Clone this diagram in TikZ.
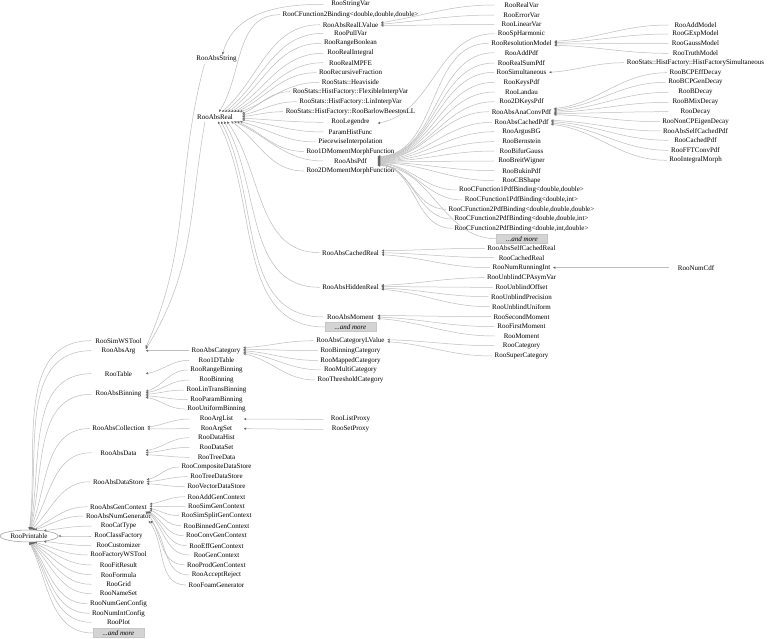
\documentclass[tikz,border=0pt]{standalone}
\usepackage{fontspec}
\setmainfont{Liberation Serif}
\usetikzlibrary{arrows.meta,calc,shapes.geometric}
\tikzset{
  cls/.style={font=\fontsize{7}{8}\selectfont, inner xsep=2.5pt, inner ysep=0pt, minimum width=54pt, minimum height=9pt},
  more/.style={font=\fontsize{7}{8}\selectfont\itshape, fill=black!17, draw=black!22, line width=0.3pt, minimum width=51pt, minimum height=9pt, inner sep=0pt},
  root/.style={ellipse, draw=black!40, line width=0.5pt, fill=white, font=\fontsize{7}{8}\selectfont, minimum width=58pt, minimum height=12pt, inner sep=0pt},
  inhline/.style={draw=black!26, line width=0.5pt, -{Triangle[open,length=2.4pt,width=2.2pt,color=black!60]}},
}
\newcommand\inh[3][0.8]{%
  \draw[inhline] let \p1=(#2.west), \p2=(#3), \n1={#1*atan2(\y1-\y2,\x1-\x2)} in (\p1) to[out=180,in=\n1] (\p2);}
\begin{document}
\begin{tikzpicture}[x=1pt,y=-1pt]
\useasboundingbox (0,0) rectangle (768,639);
\fill[white] (0,0) rectangle (768,639);
% root
\node[root] (P) at (29,536) {RooPrintable};
% column A
\node[cls] (SimWS) at (118.5,340.7) {RooSimWSTool};
\node[cls] (AbsArg) at (118.5,350.7) {RooAbsArg};
\node[cls] (Table) at (118.5,373.7) {RooTable};
\node[cls] (AbsBin) at (118.5,394.3) {RooAbsBinning};
\node[cls] (AbsColl) at (118.5,428.5) {RooAbsCollection};
\node[cls] (AbsData) at (118.5,452.7) {RooAbsData};
\node[cls] (AbsDS) at (118.5,481.7) {RooAbsDataStore};
\node[cls] (AbsGen) at (118.5,506.7) {RooAbsGenContext};
\node[cls] (AbsNum) at (118.5,516) {RooAbsNumGenerator};
\node[cls] (CatType) at (118.5,526) {RooCatType};
\node[cls] (ClassF) at (118.5,536) {RooClassFactory};
\node[cls] (Cust) at (118.5,545.7) {RooCustomizer};
\node[cls] (FacWS) at (118.5,555) {RooFactoryWSTool};
\node[cls] (FitRes) at (118.5,565) {RooFitResult};
\node[cls] (Formula) at (118.5,574.7) {RooFormula};
\node[cls] (Grid) at (118.5,584.3) {RooGrid};
\node[cls] (NameSet) at (118.5,593.7) {RooNameSet};
\node[cls] (NumGen) at (118.5,603.7) {RooNumGenConfig};
\node[cls] (NumInt) at (118.5,613.3) {RooNumIntConfig};
\node[cls] (Plot) at (118.5,622.3) {RooPlot};
\node[more] (MoreA) at (118.5,633) {...and more};
% column B
\node[cls] (AbsString) at (216.5,59.3) {RooAbsString};
\node[cls] (AbsReal) at (215,116.7) {RooAbsReal};
\node[cls] (AbsCat) at (216,350.7) {RooAbsCategory};
\node[cls] (OneDTable) at (216.5,360.3) {Roo1DTable};
\node[cls] (RangeBin) at (216.5,370) {RooRangeBinning};
\node[cls] (Binning) at (216.5,380) {RooBinning};
\node[cls] (LinTrans) at (216.5,390) {RooLinTransBinning};
\node[cls] (ParamBin) at (216.5,399.7) {RooParamBinning};
\node[cls] (UnifBin) at (216.5,409) {RooUniformBinning};
\node[cls] (ArgList) at (216.5,419) {RooArgList};
\node[cls] (ArgSet) at (216.5,428.7) {RooArgSet};
\node[cls] (DataHist) at (216.5,437.7) {RooDataHist};
\node[cls] (DataSet) at (216.5,447.3) {RooDataSet};
\node[cls] (TreeData) at (216.5,457.3) {RooTreeData};
\node[cls] (CompDS) at (216.5,467) {RooCompositeDataStore};
\node[cls] (TreeDS) at (216.5,476.7) {RooTreeDataStore};
\node[cls] (VecDS) at (216.5,486.7) {RooVectorDataStore};
\node[cls] (AddGen) at (216.5,496.7) {RooAddGenContext};
\node[cls] (SimGen) at (216.5,506.7) {RooSimGenContext};
\node[cls] (SimSplit) at (216.5,515.7) {RooSimSplitGenContext};
\node[cls] (BinnedGen) at (216.5,525.7) {RooBinnedGenContext};
\node[cls] (ConvGen) at (216.5,535.7) {RooConvGenContext};
\node[cls] (EffGen) at (216.5,545.7) {RooEffGenContext};
\node[cls] (GenCtx) at (216.5,555) {RooGenContext};
\node[cls] (ProdGen) at (216.5,564.7) {RooProdGenContext};
\node[cls] (AccRej) at (216.5,575) {RooAcceptReject};
\node[cls] (Foam) at (216.5,585) {RooFoamGenerator};
% column C
\node[cls] (StringVar) at (350.5,4.3) {RooStringVar};
\node[cls] (CF2B) at (350.5,14.7) {RooCFunction2Binding<double,double,double>};
\node[cls] (AbsRealLV) at (350.5,24.7) {RooAbsRealLValue};
\node[cls] (PullVar) at (350.5,33.3) {RooPullVar};
\node[cls] (RangeBool) at (350.5,43.3) {RooRangeBoolean};
\node[cls] (RealInt) at (350.5,53.3) {RooRealIntegral};
\node[cls] (RealMPFE) at (350.5,62.7) {RooRealMPFE};
\node[cls] (RecFrac) at (350.5,72.7) {RooRecursiveFraction};
\node[cls] (Heavi) at (350.5,82.3) {RooStats::Heaviside};
\node[cls] (FlexIV) at (350.5,91.7) {RooStats::HistFactory::FlexibleInterpVar};
\node[cls] (LinIV) at (350.5,101.7) {RooStats::HistFactory::LinInterpVar};
\node[cls] (Barlow) at (350.5,111.7) {RooStats::HistFactory::RooBarlowBeestonLL};
\node[cls] (Legendre) at (350.5,122.3) {RooLegendre};
\node[cls] (ParamHF) at (350.5,132) {ParamHistFunc};
\node[cls] (Piecewise) at (350.5,142) {PiecewiseInterpolation};
\node[cls] (Mom1D) at (350.5,151.5) {Roo1DMomentMorphFunction};
\node[cls] (AbsPdf) at (350.5,161) {RooAbsPdf};
\node[cls] (Mom2D) at (350.5,171) {Roo2DMomentMorphFunction};
\node[cls] (AbsCachedReal) at (350.5,252.7) {RooAbsCachedReal};
\node[cls] (AbsHidden) at (350.5,287.3) {RooAbsHiddenReal};
\node[cls] (AbsMoment) at (350.5,317) {RooAbsMoment};
\node[more] (MoreC) at (350.5,327) {...and more};
\node[cls] (AbsCatLV) at (350.5,340.7) {RooAbsCategoryLValue};
\node[cls] (BinCat) at (350.5,350.7) {RooBinningCategory};
\node[cls] (MapCat) at (350.5,360.5) {RooMappedCategory};
\node[cls] (MultiCat) at (350.5,370) {RooMultiCategory};
\node[cls] (ThrCat) at (350.5,380) {RooThresholdCategory};
\node[cls] (ListProxy) at (350.5,419.3) {RooListProxy};
\node[cls] (SetProxy) at (350.5,429.3) {RooSetProxy};
% column D
\node[cls] (RealVar) at (521.5,5) {RooRealVar};
\node[cls] (ErrorVar) at (521.5,15) {RooErrorVar};
\node[cls] (LinearVar) at (521.5,24.5) {RooLinearVar};
\node[cls] (SpHarm) at (521.5,33.7) {RooSpHarmonic};
\node[cls] (ResModel) at (521.5,43.3) {RooResolutionModel};
\node[cls] (AddPdf) at (521.5,52.7) {RooAddPdf};
\node[cls] (RealSumPdf) at (521.5,63) {RooRealSumPdf};
\node[cls] (Simult) at (521.5,72.3) {RooSimultaneous};
\node[cls] (KeysPdf) at (521.5,82.3) {RooKeysPdf};
\node[cls] (Landau) at (521.5,92) {RooLandau};
\node[cls] (Keys2D) at (521.5,101.7) {Roo2DKeysPdf};
\node[cls] (AnaConv) at (521.5,111.7) {RooAbsAnaConvPdf};
\node[cls] (AbsCachedPdf) at (521.5,122.3) {RooAbsCachedPdf};
\node[cls] (Argus) at (521.5,131.7) {RooArgusBG};
\node[cls] (Bern) at (521.5,141.7) {RooBernstein};
\node[cls] (Bifur) at (521.5,151) {RooBifurGauss};
\node[cls] (Breit) at (521.5,161) {RooBreitWigner};
\node[cls] (Bukin) at (521.5,170.7) {RooBukinPdf};
\node[cls] (CB) at (521.5,180.7) {RooCBShape};
\node[cls] (CFodd) at (521.5,190) {RooCFunction1PdfBinding<double,double>};
\node[cls] (CFodi) at (521.5,200) {RooCFunction1PdfBinding<double,int>};
\node[cls] (CFtddd) at (521.5,209.3) {RooCFunction2PdfBinding<double,double,double>};
\node[cls] (CFtddi) at (521.5,219) {RooCFunction2PdfBinding<double,double,int>};
\node[cls] (CFtdid) at (521.5,228.3) {RooCFunction2PdfBinding<double,int,double>};
\node[more] (MoreD) at (522,238.7) {...and more};
\node[cls] (SelfCachedReal) at (521.5,248.3) {RooAbsSelfCachedReal};
\node[cls] (CachedReal) at (521.5,257.7) {RooCachedReal};
\node[cls] (NumRun) at (521.5,267.7) {RooNumRunningInt};
\node[cls] (UnbCPA) at (521.5,277.7) {RooUnblindCPAsymVar};
\node[cls] (UnbOff) at (521.5,287.3) {RooUnblindOffset};
\node[cls] (UnbPrec) at (521.5,296.7) {RooUnblindPrecision};
\node[cls] (UnbUni) at (521.5,306.7) {RooUnblindUniform};
\node[cls] (SecMom) at (521.5,316.7) {RooSecondMoment};
\node[cls] (FirstMom) at (521.5,326.7) {RooFirstMoment};
\node[cls] (Moment) at (521.5,336) {RooMoment};
\node[cls] (Category) at (521.5,345.7) {RooCategory};
\node[cls] (SuperCat) at (521.5,356) {RooSuperCategory};
% column E
\node[cls] (AddModel) at (695.5,25) {RooAddModel};
\node[cls] (GExpModel) at (695.5,34) {RooGExpModel};
\node[cls] (GaussModel) at (695.5,43.3) {RooGaussModel};
\node[cls] (TruthModel) at (695.5,53.3) {RooTruthModel};
\node[cls] (HFSim) at (695.5,62.7) {RooStats::HistFactory::HistFactorySimultaneous};
\node[cls] (BCPEff) at (695.5,72.7) {RooBCPEffDecay};
\node[cls] (BCPGen) at (695.5,82.3) {RooBCPGenDecay};
\node[cls] (BDecay) at (695.5,92.3) {RooBDecay};
\node[cls] (BMix) at (695.5,102.3) {RooBMixDecay};
\node[cls] (Decay) at (695.5,111.7) {RooDecay};
\node[cls] (NonCP) at (695.5,121.7) {RooNonCPEigenDecay};
\node[cls] (SelfCachedPdf) at (695.5,131) {RooAbsSelfCachedPdf};
\node[cls] (CachedPdf) at (695.5,140.3) {RooCachedPdf};
\node[cls] (FFTConv) at (695.5,150.3) {RooFFTConvPdf};
\node[cls] (IntMorph) at (695.5,160.3) {RooIntegralMorph};
\node[cls] (NumCdf) at (696,267.7) {RooNumCdf};

% ---- edges: RooPrintable
\inh[1.15]{SimWS}{P.88}
\inh[1.15]{AbsArg}{P.85}
\inh[1.15]{Table}{P.82}
\inh[1.15]{AbsBin}{P.79}
\inh[1.15]{AbsColl}{P.76}
\inh[1.15]{AbsData}{P.72}
\inh[1.15]{AbsDS}{P.67}
\inh[1.15]{AbsGen}{P.60}
\inh[1.15]{AbsNum}{P.48}
\inh[1.15]{CatType}{P.20}
\inh[1.15]{ClassF}{P.0}
\inh[1.15]{Cust}{P.-20}
\inh[1.15]{FacWS}{P.-48}
\inh[1.15]{FitRes}{P.-60}
\inh[1.15]{Formula}{P.-67}
\inh[1.15]{Grid}{P.-72}
\inh[1.15]{NameSet}{P.-76}
\inh[1.15]{NumGen}{P.-79}
\inh[1.15]{NumInt}{P.-82}
\inh[1.15]{Plot}{P.-85}
\inh[1.15]{MoreA}{P.-88}
% RooAbsArg
\inh{AbsCat}{AbsArg.east}
\draw[inhline] ([xshift=-10pt]AbsReal.south) to[out=-100,in=58] ([yshift=1.5pt]AbsArg.east);
\draw[inhline] ([xshift=-12pt]AbsString.south) to[out=-105,in=66] ([yshift=3pt]AbsArg.east);
% RooAbsString
\draw[inhline] (StringVar.west) to[out=180,in=75] ([xshift=6pt]AbsString.north);
% RooAbsReal
\inh[1]{CF2B}{[xshift=4pt]AbsReal.north}
\inh[1]{AbsRealLV}{[xshift=7pt]AbsReal.north}
\inh[1]{PullVar}{[xshift=10pt]AbsReal.north}
\inh[1]{RangeBool}{[xshift=13pt]AbsReal.north}
\inh[1]{RealInt}{[xshift=16pt]AbsReal.north}
\inh[1]{RealMPFE}{[xshift=19pt]AbsReal.north}
\inh[1]{RecFrac}{[xshift=22pt]AbsReal.north}
\inh[1]{Heavi}{[xshift=25pt]AbsReal.north}
\inh[1]{FlexIV}{[yshift=3pt]AbsReal.east}
\inh[1]{LinIV}{[yshift=1.5pt]AbsReal.east}
\inh[1]{Barlow}{AbsReal.east}
\inh[1]{Legendre}{[yshift=-1.5pt]AbsReal.east}
\inh[1]{ParamHF}{[yshift=-3pt]AbsReal.east}
\inh[1]{Piecewise}{[xshift=25pt]AbsReal.south}
\inh[1]{Mom1D}{[xshift=22pt]AbsReal.south}
\inh[1]{AbsPdf}{[xshift=19pt]AbsReal.south}
\inh[1]{Mom2D}{[xshift=16pt]AbsReal.south}
\inh[1]{AbsCachedReal}{[xshift=12pt]AbsReal.south}
\inh[1]{AbsHidden}{[xshift=9pt]AbsReal.south}
\inh[1]{AbsMoment}{[xshift=6pt]AbsReal.south}
\inh[1]{MoreC}{[xshift=3pt]AbsReal.south}
% RooAbsRealLValue
\inh[1]{RealVar}{[yshift=2pt]AbsRealLV.east}
\inh[1]{ErrorVar}{[yshift=0.5pt]AbsRealLV.east}
\inh[1]{LinearVar}{[yshift=-1pt]AbsRealLV.east}
% RooLegendre
\inh[0.3]{SpHarm}{[yshift=-1pt]Legendre.east}
% RooAbsPdf
\inh[0.05]{ResModel}{[yshift=4.5pt]AbsPdf.east}
\inh[0.05]{AddPdf}{[yshift=4.05pt]AbsPdf.east}
\inh[0.05]{RealSumPdf}{[yshift=3.6pt]AbsPdf.east}
\inh[0.05]{Simult}{[yshift=3.15pt]AbsPdf.east}
\inh[0.05]{KeysPdf}{[yshift=2.7pt]AbsPdf.east}
\inh[0.05]{Landau}{[yshift=2.25pt]AbsPdf.east}
\inh[0.05]{Keys2D}{[yshift=1.8pt]AbsPdf.east}
\inh[0.05]{AnaConv}{[yshift=1.35pt]AbsPdf.east}
\inh[0.05]{AbsCachedPdf}{[yshift=0.9pt]AbsPdf.east}
\inh[0.05]{Argus}{[yshift=0.45pt]AbsPdf.east}
\inh[0.05]{Bern}{AbsPdf.east}
\inh[0.05]{Bifur}{[yshift=-0.45pt]AbsPdf.east}
\inh[0.05]{Breit}{[yshift=-0.9pt]AbsPdf.east}
\inh[0.05]{Bukin}{[yshift=-1.35pt]AbsPdf.east}
\inh[0.05]{CB}{[yshift=-1.8pt]AbsPdf.east}
\inh[0.05]{CFodd}{[yshift=-2.25pt]AbsPdf.east}
\inh[0.05]{CFodi}{[yshift=-2.7pt]AbsPdf.east}
\inh[0.05]{CFtddd}{[yshift=-3.15pt]AbsPdf.east}
\inh[0.05]{CFtddi}{[yshift=-3.6pt]AbsPdf.east}
\inh[0.05]{CFtdid}{[yshift=-4.05pt]AbsPdf.east}
\inh[0.05]{MoreD}{[yshift=-4.5pt]AbsPdf.east}
% RooResolutionModel
\inh[0.4]{AddModel}{[yshift=2pt]ResModel.east}
\inh[0.4]{GExpModel}{[yshift=0.7pt]ResModel.east}
\inh[0.4]{GaussModel}{[yshift=-0.7pt]ResModel.east}
\inh[0.4]{TruthModel}{[yshift=-2pt]ResModel.east}
% RooSimultaneous
\inh[0.5]{HFSim}{Simult.east}
% RooAbsAnaConvPdf
\inh[0.4]{BCPEff}{[yshift=3pt]AnaConv.east}
\inh[0.4]{BCPGen}{[yshift=1.8pt]AnaConv.east}
\inh[0.4]{BDecay}{[yshift=0.6pt]AnaConv.east}
\inh[0.4]{BMix}{[yshift=-0.6pt]AnaConv.east}
\inh[0.4]{Decay}{[yshift=-1.8pt]AnaConv.east}
\inh[0.4]{NonCP}{[yshift=-3pt]AnaConv.east}
% RooAbsCachedPdf
\inh[0.4]{SelfCachedPdf}{[yshift=2pt]AbsCachedPdf.east}
\inh[0.4]{CachedPdf}{[yshift=0.7pt]AbsCachedPdf.east}
\inh[0.4]{FFTConv}{[yshift=-0.7pt]AbsCachedPdf.east}
\inh[0.4]{IntMorph}{[yshift=-2pt]AbsCachedPdf.east}
% RooAbsCachedReal
\inh[0.5]{SelfCachedReal}{[yshift=2pt]AbsCachedReal.east}
\inh[0.5]{CachedReal}{AbsCachedReal.east}
\inh[0.5]{NumRun}{[yshift=-2pt]AbsCachedReal.east}
\inh{NumCdf}{NumRun.east}
% RooAbsHiddenReal
\inh[0.5]{UnbCPA}{[yshift=2pt]AbsHidden.east}
\inh[0.5]{UnbOff}{[yshift=0.7pt]AbsHidden.east}
\inh[0.5]{UnbPrec}{[yshift=-0.7pt]AbsHidden.east}
\inh[0.5]{UnbUni}{[yshift=-2pt]AbsHidden.east}
% RooAbsMoment
\inh[0.5]{SecMom}{[yshift=1.5pt]AbsMoment.east}
\inh[0.5]{FirstMom}{AbsMoment.east}
\inh[0.5]{Moment}{[yshift=-1.5pt]AbsMoment.east}
% RooAbsCategory
\inh[0.6]{AbsCatLV}{[yshift=3pt]AbsCat.east}
\inh[0.6]{BinCat}{[yshift=1.5pt]AbsCat.east}
\inh[0.6]{MapCat}{AbsCat.east}
\inh[0.6]{MultiCat}{[yshift=-1.5pt]AbsCat.east}
\inh[0.6]{ThrCat}{[yshift=-3pt]AbsCat.east}
% RooAbsCategoryLValue
\inh[0.5]{Category}{[yshift=1pt]AbsCatLV.east}
\inh[0.5]{SuperCat}{[yshift=-1pt]AbsCatLV.east}
% RooTable
\inh[0.6]{OneDTable}{Table.east}
% RooAbsBinning
\inh[0.6]{RangeBin}{[yshift=3pt]AbsBin.east}
\inh[0.6]{Binning}{[yshift=1.5pt]AbsBin.east}
\inh[0.6]{LinTrans}{AbsBin.east}
\inh[0.6]{ParamBin}{[yshift=-1.5pt]AbsBin.east}
\inh[0.6]{UnifBin}{[yshift=-3pt]AbsBin.east}
% RooAbsCollection
\inh[0.6]{ArgList}{[yshift=1.5pt]AbsColl.east}
\inh[0.6]{ArgSet}{[yshift=-0.5pt]AbsColl.east}
\inh{ListProxy}{ArgList.east}
\inh{SetProxy}{ArgSet.east}
% RooAbsData
\inh[0.6]{DataHist}{[yshift=2pt]AbsData.east}
\inh[0.6]{DataSet}{AbsData.east}
\inh[0.6]{TreeData}{[yshift=-2pt]AbsData.east}
% RooAbsDataStore
\inh[0.6]{CompDS}{[yshift=2pt]AbsDS.east}
\inh[0.6]{TreeDS}{AbsDS.east}
\inh[0.6]{VecDS}{[yshift=-2pt]AbsDS.east}
% RooAbsGenContext
\inh[0.9]{AddGen}{[yshift=2.5pt]AbsGen.east}
\inh[0.9]{SimGen}{[yshift=0.5pt]AbsGen.east}
\inh[0.9]{SimSplit}{[yshift=-1.5pt]AbsGen.east}
\inh[0.9]{BinnedGen}{[yshift=-3pt]AbsGen.east}
\inh[0.9]{ConvGen}{[xshift=-1pt]AbsGen.south east}
\inh[0.9]{EffGen}{[xshift=-2pt]AbsGen.south east}
\inh[0.9]{GenCtx}{[xshift=-3pt]AbsGen.south east}
\inh[0.9]{ProdGen}{[xshift=-4pt]AbsGen.south east}
% RooAbsNumGenerator
\inh[0.9]{AccRej}{[xshift=-3pt]AbsNum.south east}
\inh[0.9]{Foam}{[xshift=-5pt]AbsNum.south east}
\end{tikzpicture}
\end{document}
